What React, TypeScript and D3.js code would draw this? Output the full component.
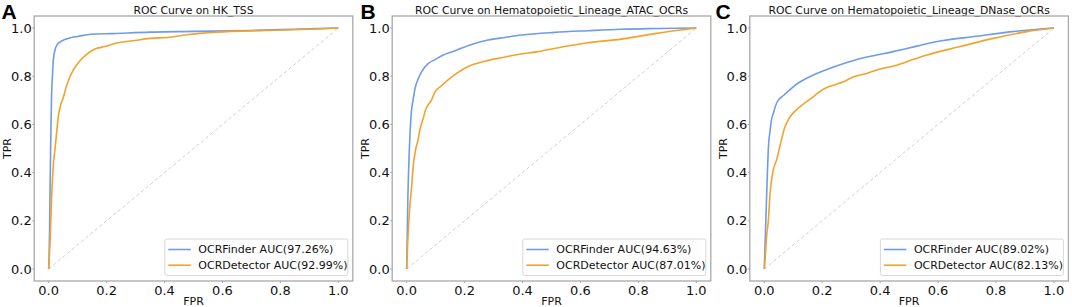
import React from "react";
import * as d3 from "d3";

const panelLetters = ["A", "B", "C"];
const panelTitles = [
  "ROC Curve on HK_TSS",
  "ROC Curve on Hematopoietic_Lineage_ATAC_OCRs",
  "ROC Curve on Hematopoietic_Lineage_DNase_OCRs",
];
const seriesNames = ["OCRFinder", "OCRDetector"];
const aucLabels = [
  ["97.26%", "92.99%"],
  ["94.63%", "87.01%"],
  ["89.02%", "82.13%"],
];
const tickValues = [0, 0.2, 0.4, 0.6, 0.8, 1.0];

// Panel A
const fprA_finder = [0, 0.003, 0.005, 0.008, 0.01, 0.013, 0.016, 0.022, 0.03, 0.04, 0.055, 0.075, 0.1, 0.145, 0.22, 0.35, 0.5, 0.7, 0.85, 1];
const tprA_finder = [0, 0.15, 0.35, 0.6, 0.72, 0.8, 0.867, 0.91, 0.932, 0.943, 0.952, 0.96, 0.965, 0.974, 0.977, 0.983, 0.986, 0.99, 0.995, 1];
const fprA_detector = [0, 0.005, 0.01, 0.016, 0.022, 0.027, 0.033, 0.039, 0.05, 0.062, 0.074, 0.09, 0.105, 0.13, 0.16, 0.194, 0.235, 0.29, 0.35, 0.41, 0.476, 0.58, 0.75, 0.9, 1];
const tprA_detector = [0, 0.12, 0.29, 0.43, 0.5, 0.56, 0.63, 0.67, 0.71, 0.76, 0.8, 0.835, 0.86, 0.89, 0.913, 0.923, 0.938, 0.947, 0.957, 0.961, 0.972, 0.983, 0.99, 0.995, 1];

// Panel B
const fprB_finder = [0, 0.004, 0.009, 0.016, 0.022, 0.029, 0.04, 0.052, 0.075, 0.1, 0.121, 0.167, 0.224, 0.281, 0.339, 0.397, 0.511, 0.626, 0.74, 0.87, 1];
const tprB_finder = [0, 0.29, 0.49, 0.65, 0.7, 0.75, 0.79, 0.819, 0.853, 0.87, 0.885, 0.906, 0.932, 0.95, 0.961, 0.971, 0.982, 0.989, 0.995, 0.998, 1];
const fprB_detector = [0, 0.004, 0.01, 0.017, 0.022, 0.03, 0.039, 0.046, 0.056, 0.065, 0.085, 0.098, 0.12, 0.143, 0.17, 0.212, 0.27, 0.328, 0.385, 0.454, 0.54, 0.626, 0.741, 0.856, 1];
const tprB_detector = [0, 0.12, 0.245, 0.34, 0.42, 0.49, 0.535, 0.58, 0.62, 0.66, 0.7, 0.735, 0.76, 0.785, 0.81, 0.84, 0.862, 0.877, 0.89, 0.902, 0.922, 0.939, 0.954, 0.977, 1];

// Panel C
const fprC_finder = [0, 0.004, 0.008, 0.011, 0.014, 0.02, 0.025, 0.031, 0.043, 0.048, 0.066, 0.085, 0.106, 0.152, 0.198, 0.267, 0.336, 0.388, 0.445, 0.503, 0.561, 0.618, 0.733, 0.848, 1];
const tprC_finder = [0, 0.15, 0.3, 0.41, 0.5, 0.575, 0.62, 0.645, 0.69, 0.7, 0.72, 0.74, 0.762, 0.795, 0.82, 0.85, 0.875, 0.888, 0.902, 0.918, 0.935, 0.948, 0.966, 0.984, 1];
const fprC_detector = [0, 0.004, 0.008, 0.014, 0.02, 0.031, 0.043, 0.052, 0.06, 0.07, 0.083, 0.106, 0.13, 0.158, 0.21, 0.245, 0.273, 0.307, 0.35, 0.388, 0.457, 0.515, 0.561, 0.676, 0.79, 0.906, 1];
const tprC_detector = [0, 0.06, 0.134, 0.2, 0.314, 0.41, 0.455, 0.5, 0.54, 0.585, 0.62, 0.655, 0.68, 0.705, 0.75, 0.765, 0.777, 0.797, 0.81, 0.826, 0.846, 0.87, 0.888, 0.923, 0.957, 0.985, 1];

const panelFpr = [
  [fprA_finder, fprA_detector],
  [fprB_finder, fprB_detector],
  [fprC_finder, fprC_detector],
];
const panelTpr = [
  [tprA_finder, tprA_detector],
  [tprB_finder, tprB_detector],
  [tprC_finder, tprC_detector],
];

const COLORS = ["#6f9be8", "#f3a22c"];
const FONT = "DejaVu Sans, sans-serif";
const TEXT = "#111";
const W = 1072;
const H = 307;
const panelLeft = [34.2, 392.2, 749.8];
const panelWidth = 318.6;
const axTop = 16;
const axBottom = 281;

function Panel({ idx }: { idx: number }) {
  const left = panelLeft[idx];
  const right = left + panelWidth;
  const x = d3.scaleLinear().domain([-0.05, 1.05]).range([left, right]);
  const y = d3.scaleLinear().domain([-0.05, 1.05]).range([axBottom, axTop]);
  const cx = (left + right) / 2;
  const cy = (axTop + axBottom) / 2;
  const fmt = d3.format(".1f");
  const line = d3
    .line<[number, number]>()
    .x((d) => x(d[0]))
    .y((d) => y(d[1]))
    .curve(d3.curveMonotoneX);
  const straight = d3
    .line<[number, number]>()
    .x((d) => x(d[0]))
    .y((d) => y(d[1]));

  const legW = 183;
  const legH = 36.5;
  const legX = right - 5 - legW;
  const legY = axBottom - 5.5 - legH;
  const rows = [legY + 10.5, legY + 26.2];

  return (
    <g>
      <text x={[1.5, 360.5, 715.5][idx]} y={18.5} fontFamily="Liberation Sans, Arial, sans-serif" fontWeight="bold" fontSize={21} fill="#000">
        {panelLetters[idx]}
      </text>
      <text x={cx} y={13.5} textAnchor="middle" fontFamily={FONT} fontSize={10.8} fill={TEXT}>
        {panelTitles[idx]}
      </text>
      <path
        d={straight([[0, 0], [1, 1]]) || ""}
        stroke="#d0d0d0"
        strokeWidth={1}
        strokeDasharray="3.5,2.5"
        fill="none"
      />
      {seriesNames.map((name, s) => {
        const pts: [number, number][] = panelFpr[idx][s].map((f, i) => [f, panelTpr[idx][s][i]]);
        return (
          <path
            key={name}
            d={line(pts) || ""}
            stroke={COLORS[s]}
            strokeWidth={1.6}
            fill="none"
            strokeLinejoin="round"
          />
        );
      })}
      <rect x={left} y={axTop} width={panelWidth} height={axBottom - axTop} fill="none" stroke="#a8a8a8" strokeWidth={1.3} />
      {tickValues.map((t) => (
        <g key={"x" + t}>
          <line x1={x(t)} x2={x(t)} y1={axBottom} y2={axBottom + 2} stroke="#a8a8a8" strokeWidth={1} />
          <text x={x(t)} y={294.5} textAnchor="middle" fontFamily={FONT} fontSize={13} fill={TEXT}>
            {fmt(t)}
          </text>
        </g>
      ))}
      {tickValues.map((t) => (
        <g key={"y" + t}>
          <line x1={left - 2} x2={left} y1={y(t)} y2={y(t)} stroke="#a8a8a8" strokeWidth={1} />
          <text x={left - 2.5} y={y(t)} dy="0.36em" textAnchor="end" fontFamily={FONT} fontSize={13} fill={TEXT}>
            {fmt(t)}
          </text>
        </g>
      ))}
      <text x={cx} y={305} textAnchor="middle" fontFamily={FONT} fontSize={11} fill={TEXT}>
        FPR
      </text>
      <text
        transform={`translate(${left - 23},${cy}) rotate(-90)`}
        textAnchor="middle"
        fontFamily={FONT}
        fontSize={11}
        fill={TEXT}
      >
        TPR
      </text>
      <rect x={legX} y={legY} width={legW} height={legH} rx={2} fill="white" fillOpacity={0.85} stroke="#d8d8d8" strokeWidth={1} />
      {seriesNames.map((name, s) => (
        <g key={"leg" + name}>
          <line x1={legX + 3.5} x2={legX + 26} y1={rows[s]} y2={rows[s]} stroke={COLORS[s]} strokeWidth={1.6} />
          <text x={legX + 33.5} y={rows[s]} dy="0.36em" fontFamily={FONT} fontSize={11} fill={TEXT}>
            {`${name} AUC(${aucLabels[idx][s]})`}
          </text>
        </g>
      ))}
    </g>
  );
}

export default function App() {
  return (
    <svg
      width={W}
      height={H}
      viewBox={`0 0 ${W} ${H}`}
      style={{ position: "absolute", left: 0, top: 0, background: "white" }}
    >
      <rect x={0} y={0} width={W} height={H} fill="white" />
      {[0, 1, 2].map((i) => (
        <Panel key={i} idx={i} />
      ))}
    </svg>
  );
}
